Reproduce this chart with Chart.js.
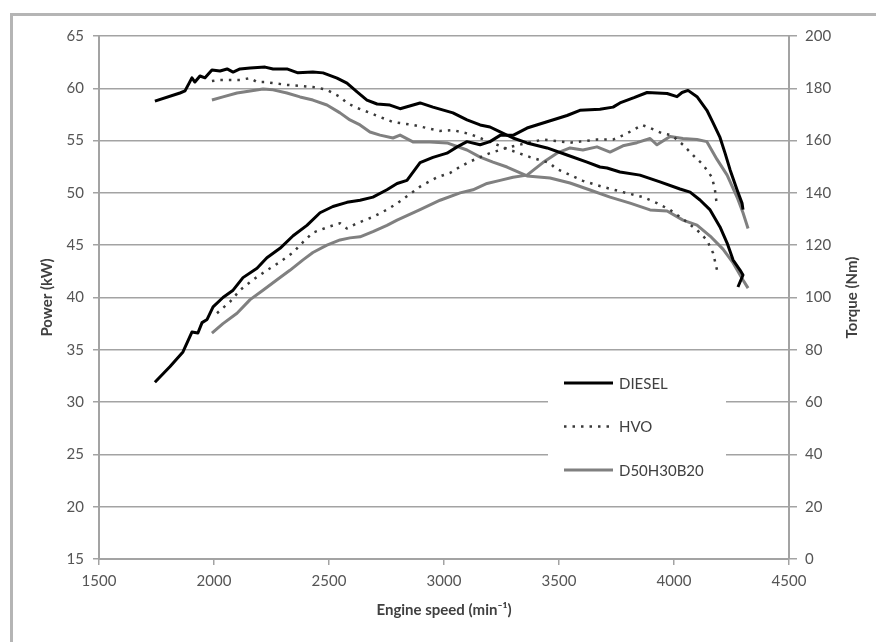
<!DOCTYPE html>
<html>
<head>
<meta charset="utf-8">
<script src="https://cdn.jsdelivr.net/npm/chart.js@4.4.0/dist/chart.umd.min.js"></script>
<style>
  body { margin: 0; background: #fff; }
  canvas { display: block; }
</style>
</head>
<body>
<canvas id="myChart" width="876" height="642"></canvas>
<script>
// Values (engine speed in min-1, power in kW, torque in Nm)
const dieselPowerRpm = [1743, 1809, 1865, 1904, 1930, 1948, 1970, 1996, 2039, 2083, 2126, 2187, 2230, 2287, 2344, 2404, 2461, 2517, 2578, 2635, 2691, 2752, 2796, 2839, 2896, 2952, 3013, 3057, 3100, 3157, 3200, 3244, 3300, 3361, 3448, 3535, 3591, 3678, 3735, 3765, 3826, 3883, 3970, 4013, 4035, 4061, 4100, 4143, 4170, 4200, 4222, 4244, 4274, 4296, 4300];
const dieselPowerKw = [31.9, 33.4, 34.8, 36.7, 36.6, 37.6, 37.9, 39.1, 40.0, 40.7, 41.9, 42.8, 43.8, 44.7, 45.9, 46.9, 48.1, 48.7, 49.1, 49.3, 49.6, 50.3, 50.9, 51.2, 52.9, 53.4, 53.8, 54.4, 54.9, 54.6, 54.9, 55.5, 55.5, 56.2, 56.8, 57.4, 57.9, 58.0, 58.2, 58.6, 59.1, 59.6, 59.5, 59.2, 59.6, 59.8, 59.2, 57.9, 56.7, 55.3, 53.8, 52.2, 50.3, 49.0, 48.4];

const dieselTorqueRpm = [1743, 1852, 1874, 1904, 1917, 1939, 1961, 1991, 2026, 2057, 2083, 2113, 2157, 2222, 2257, 2317, 2365, 2430, 2474, 2535, 2578, 2622, 2665, 2709, 2765, 2809, 2896, 2952, 3039, 3100, 3157, 3200, 3244, 3300, 3361, 3448, 3535, 3622, 3678, 3709, 3765, 3852, 3939, 4026, 4070, 4113, 4157, 4200, 4231, 4257, 4287, 4300, 4278];
const dieselTorqueNm = [175.1, 178.2, 179.0, 184.0, 182.4, 184.7, 184.0, 187.0, 186.6, 187.4, 186.2, 187.4, 187.8, 188.1, 187.4, 187.4, 185.9, 186.2, 185.9, 183.9, 182.0, 178.6, 175.5, 174.0, 173.6, 172.2, 174.4, 172.8, 170.6, 167.9, 166.0, 165.2, 163.3, 161.0, 159.1, 157.2, 154.5, 151.8, 149.9, 149.5, 148.0, 146.8, 144.2, 141.5, 140.3, 137.3, 133.5, 127.0, 120.8, 114.3, 110.5, 108.6, 104.0];

const hvoPowerRpm = [2013, 2070, 2113, 2170, 2230, 2287, 2344, 2387, 2430, 2491, 2548, 2578, 2622, 2691, 2752, 2796, 2896, 2970, 3026, 3070, 3113, 3200, 3287, 3430, 3548, 3665, 3735, 3778, 3822, 3861, 3896, 3948, 3991, 4039, 4083, 4126, 4165, 4178, 4187];
const hvoPowerKw = [38.5, 39.6, 40.7, 41.7, 42.6, 43.4, 44.3, 45.3, 46.2, 46.7, 47.1, 46.6, 47.1, 47.7, 48.4, 49.0, 50.6, 51.5, 51.9, 52.5, 53.0, 53.8, 54.4, 55.1, 54.8, 55.1, 55.1, 55.5, 56.0, 56.5, 56.2, 55.7, 55.5, 54.6, 53.6, 52.7, 51.5, 50.3, 48.7];

const hvoTorqueRpm = [1991, 2026, 2070, 2113, 2157, 2187, 2222, 2257, 2317, 2374, 2430, 2491, 2548, 2578, 2622, 2678, 2722, 2778, 2809, 2865, 2926, 2983, 3039, 3113, 3200, 3287, 3374, 3461, 3483, 3604, 3691, 3778, 3865, 3926, 3983, 4039, 4100, 4143, 4170, 4187];
const hvoTorqueNm = [182.8, 183.2, 183.2, 183.2, 183.9, 182.4, 182.4, 182.0, 181.3, 180.9, 180.5, 179.4, 176.7, 174.4, 172.5, 170.6, 169.0, 167.1, 166.7, 166.0, 164.8, 163.7, 164.0, 162.5, 159.5, 156.4, 153.7, 151.4, 149.5, 144.6, 142.3, 140.3, 138.4, 136.1, 133.5, 130.0, 125.8, 122.0, 117.0, 110.5];

const blendPowerRpm = [1991, 2039, 2100, 2157, 2213, 2274, 2330, 2387, 2430, 2491, 2548, 2591, 2635, 2691, 2752, 2796, 2896, 2983, 3070, 3126, 3187, 3244, 3300, 3361, 3430, 3491, 3548, 3604, 3665, 3722, 3778, 3839, 3896, 3926, 3983, 4039, 4100, 4143, 4187, 4231, 4274, 4300, 4322];
const blendPowerKw = [36.6, 37.5, 38.5, 39.8, 40.7, 41.7, 42.6, 43.6, 44.3, 45.0, 45.5, 45.7, 45.8, 46.3, 46.9, 47.4, 48.4, 49.3, 50.0, 50.3, 50.9, 51.2, 51.5, 51.7, 52.9, 53.8, 54.3, 54.1, 54.4, 53.9, 54.5, 54.8, 55.2, 54.6, 55.4, 55.2, 55.1, 54.9, 53.2, 51.7, 49.6, 48.1, 46.6];

const blendTorqueRpm = [1991, 2039, 2100, 2157, 2213, 2257, 2317, 2374, 2430, 2491, 2548, 2591, 2635, 2678, 2722, 2778, 2809, 2865, 2939, 3013, 3100, 3157, 3213, 3274, 3361, 3461, 3548, 3635, 3722, 3809, 3896, 3970, 4039, 4100, 4157, 4213, 4257, 4300, 4322];
const blendTorqueNm = [175.5, 176.7, 178.2, 179.0, 179.7, 179.4, 178.2, 176.7, 175.5, 173.6, 170.6, 167.9, 166.0, 163.3, 162.1, 161.0, 162.1, 159.5, 159.5, 159.1, 156.4, 153.7, 151.8, 149.9, 146.5, 145.7, 143.8, 141.1, 138.4, 136.1, 133.5, 133.1, 129.6, 127.7, 123.5, 118.5, 113.2, 106.7, 103.6];

const fuelNames = ['DIESEL', 'HVO', 'D50H30B20'];

const FONT = 'Lato';
const gridColor = '#a3a3a3';

function toPoints(xs, ys) {
    return xs.map((x, i) => ({ x: x, y: ys[i] }));
}

// styles per fuel
const styles = {
    'DIESEL': { borderColor: '#000000', borderWidth: 3, borderDash: [] },
    'HVO': { borderColor: '#3a3a3a', borderWidth: 2.5, borderDash: [2.5, 6] },
    'D50H30B20': { borderColor: '#808080', borderWidth: 3, borderDash: [] }
};

function makeSet(name, xs, ys, axis) {
    const s = styles[name];
    return {
        label: name,
        data: toPoints(xs, ys),
        yAxisID: axis,
        borderColor: s.borderColor,
        borderWidth: s.borderWidth,
        borderDash: s.borderDash,
        borderJoinStyle: 'round',
        pointRadius: 0,
        tension: 0,
        fill: false
    };
}

// white frame, right title and the in-plot legend
const extras = {
    id: 'extras',
    beforeDraw(chart) {
        const ctx = chart.ctx;
        ctx.save();
        ctx.fillStyle = '#ffffff';
        ctx.fillRect(0, 0, chart.width, chart.height);
        ctx.strokeStyle = '#b5b5b5';
        ctx.lineWidth = 3;
        ctx.strokeRect(11.5, 14.5, chart.width + 40, chart.height + 40);
        ctx.restore();
    },
    afterDraw(chart) {
        const ctx = chart.ctx;
        const area = chart.chartArea;
        ctx.save();
        ctx.translate(chart.width - 24, (area.top + area.bottom) / 2);
        ctx.rotate(-Math.PI / 2);
        ctx.font = 'bold 15px ' + FONT;
        ctx.fillStyle = '#404040';
        ctx.textAlign = 'center';
        ctx.textBaseline = 'middle';
        ctx.fillText('Torque (Nm)', 0, 0);
        ctx.restore();

        // legend box
        ctx.save();
        ctx.fillStyle = '#ffffff';
        ctx.fillRect(548, 362, 178, 138);
        ctx.font = '15px ' + FONT;
        ctx.textBaseline = 'middle';
        fuelNames.forEach((name, i) => {
            const s = styles[name];
            const y = 383 + i * 43.5;
            ctx.strokeStyle = s.borderColor;
            ctx.lineWidth = s.borderWidth;
            ctx.setLineDash(s.borderDash);
            ctx.beginPath();
            ctx.moveTo(564, y);
            ctx.lineTo(613, y);
            ctx.stroke();
            ctx.setLineDash([]);
            ctx.fillStyle = '#404040';
            ctx.fillText(name, 619, y + 1);
        });
        ctx.restore();
    }
};

const ctx = document.getElementById('myChart').getContext('2d');
const myChart = new Chart(ctx, {
    type: 'line',
    data: {
        datasets: [
            makeSet('DIESEL', dieselPowerRpm, dieselPowerKw, 'y'),
            makeSet('DIESEL', dieselTorqueRpm, dieselTorqueNm, 'y1'),
            makeSet('HVO', hvoPowerRpm, hvoPowerKw, 'y'),
            makeSet('HVO', hvoTorqueRpm, hvoTorqueNm, 'y1'),
            makeSet('D50H30B20', blendPowerRpm, blendPowerKw, 'y'),
            makeSet('D50H30B20', blendTorqueRpm, blendTorqueNm, 'y1')
        ]
    },
    options: {
        responsive: false,
        animation: false,
        layout: { padding: { top: 36, left: 0, right: 0, bottom: 0 } },
        plugins: {
            legend: { display: false },
            tooltip: { enabled: false }
        },
        scales: {
            x: {
                type: 'linear',
                min: 1500,
                max: 4500,
                ticks: {
                    stepSize: 500,
                    padding: 7,
                    color: '#555555',
                    font: { family: FONT, size: 15 },
                    callback: v => v
                },
                grid: { drawOnChartArea: false, tickLength: 6, color: gridColor, lineWidth: 1.5 },
                border: { color: gridColor, width: 2 },
                title: {
                    display: true,
                    text: 'Engine speed (min\u207B\u00B9)',
                    color: '#404040',
                    font: { family: FONT, size: 15, weight: 'bold' },
                    padding: { top: 0, bottom: 23 }
                },
                afterFit: scale => { scale.height = 83; }
            },
            y: {
                position: 'left',
                min: 15,
                max: 65,
                ticks: {
                    stepSize: 5,
                    padding: 9,
                    color: '#555555',
                    font: { family: FONT, size: 15 },
                    callback: v => v
                },
                grid: { tickLength: 6, color: gridColor, lineWidth: 1.5 },
                border: { color: gridColor, width: 2 },
                title: {
                    display: true,
                    text: 'Power (kW)',
                    color: '#404040',
                    font: { family: FONT, size: 15, weight: 'bold' },
                    padding: { top: 38, bottom: 0 }
                },
                afterFit: scale => { scale.width = 99; }
            },
            y1: {
                position: 'right',
                min: 0,
                max: 200,
                ticks: {
                    stepSize: 20,
                    padding: 8,
                    color: '#555555',
                    font: { family: FONT, size: 15 },
                    callback: v => v
                },
                grid: { drawOnChartArea: false, tickLength: 8, color: gridColor, lineWidth: 1.5 },
                border: { color: gridColor, width: 2 },
                afterFit: scale => { scale.width = 87; }
            }
        }
    },
    plugins: [extras]
});
</script>
</body>
</html>
